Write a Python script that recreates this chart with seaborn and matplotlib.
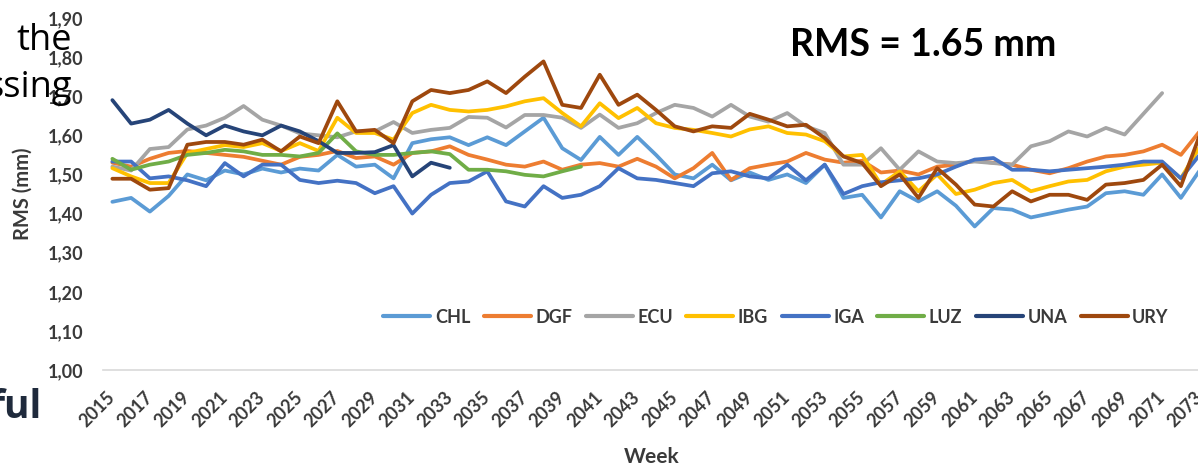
import numpy as np
import pandas as pd
import matplotlib
matplotlib.use("Agg")
import matplotlib.pyplot as plt
import seaborn as sns

nan = np.nan

# GPS week numbers on the horizontal axis
weeks = list(range(2015, 2074))

stations = ["CHL", "DGF", "ECU", "IBG", "IGA", "LUZ", "UNA", "URY"]
station_colors = ["#5B9BD5", "#ED7D31", "#A5A5A5", "#FFC000",
                  "#4472C4", "#70AD47", "#264478", "#9E480E"]

# Weekly RMS (mm) per analysis centre
chl = [1.43, 1.44, 1.405, 1.445, 1.50, 1.485, 1.51, 1.50, 1.515, 1.505,
       1.515, 1.51, 1.55, 1.52, 1.525, 1.49, 1.58, 1.59, 1.595, 1.575,
       1.595, 1.575, 1.61, 1.645, 1.567, 1.537, 1.596, 1.55, 1.596, 1.55,
       1.50, 1.49, 1.525, 1.485, 1.505, 1.486, 1.50, 1.478, 1.525, 1.44,
       1.448, 1.39, 1.457, 1.431, 1.457, 1.42, 1.367, 1.414, 1.41, 1.39,
       1.40, 1.41, 1.418, 1.452, 1.457, 1.448, 1.50, 1.44, 1.51]
dgf = [1.53, 1.52, 1.54, 1.555, 1.56, 1.555, 1.55, 1.545, 1.535, 1.525,
       1.545, 1.55, 1.56, 1.542, 1.546, 1.525, 1.555, 1.559, 1.572, 1.55,
       1.538, 1.525, 1.52, 1.533, 1.512, 1.525, 1.529, 1.52, 1.54, 1.52,
       1.49, 1.516, 1.555, 1.486, 1.516, 1.525, 1.533, 1.555, 1.538, 1.53,
       1.535, 1.505, 1.51, 1.50, 1.52, 1.525, 1.535, 1.53, 1.525, 1.512,
       1.503, 1.516, 1.533, 1.546, 1.55, 1.559, 1.576, 1.55, 1.61]
ecu = [1.52, 1.51, 1.565, 1.57, 1.615, 1.625, 1.645, 1.675, 1.64, 1.625,
       1.605, 1.60, 1.595, 1.61, 1.61, 1.634, 1.606, 1.614, 1.619, 1.647,
       1.645, 1.62, 1.652, 1.652, 1.645, 1.619, 1.653, 1.619, 1.631, 1.657,
       1.678, 1.67, 1.648, 1.678, 1.648, 1.635, 1.657, 1.623, 1.606, 1.525,
       1.525, 1.567, 1.512, 1.559, 1.533, 1.529, 1.533, 1.529, 1.525, 1.572,
       1.585, 1.61, 1.597, 1.619, 1.602, 1.655, 1.708, nan, nan]
ibg = [1.516, 1.495, 1.478, 1.478, 1.555, 1.565, 1.575, 1.57, 1.58, 1.56,
       1.58, 1.56, 1.645, 1.606, 1.606, 1.589, 1.657, 1.678, 1.665, 1.661,
       1.665, 1.674, 1.687, 1.695, 1.657, 1.623, 1.682, 1.644, 1.67, 1.631,
       1.619, 1.614, 1.606, 1.597, 1.615, 1.623, 1.606, 1.602, 1.585, 1.546,
       1.55, 1.474, 1.508, 1.457, 1.50, 1.45, 1.461, 1.478, 1.486, 1.457,
       1.47, 1.482, 1.486, 1.508, 1.52, 1.525, 1.53, 1.49, 1.57]
iga = [1.533, 1.533, 1.49, 1.495, 1.485, 1.47, 1.529, 1.495, 1.525, 1.525,
       1.486, 1.478, 1.484, 1.478, 1.452, 1.47, 1.40, 1.448, 1.478, 1.482,
       1.508, 1.431, 1.418, 1.47, 1.44, 1.448, 1.47, 1.516, 1.49, 1.486,
       1.478, 1.47, 1.503, 1.508, 1.495, 1.49, 1.525, 1.485, 1.525, 1.45,
       1.47, 1.48, 1.485, 1.49, 1.50, 1.52, 1.538, 1.542, 1.512, 1.512,
       1.508, 1.512, 1.516, 1.52, 1.525, 1.533, 1.533, 1.49, 1.55]
luz = [1.54, 1.512, 1.525, 1.533, 1.55, 1.555, 1.563, 1.559, 1.55, 1.55,
       1.546, 1.555, 1.605, 1.559, 1.55, 1.55, 1.555, 1.559, 1.552, 1.512,
       1.512, 1.508, 1.499, 1.495, 1.508, 1.52] + [nan] * 33
una = [1.69, 1.63, 1.64, 1.665, 1.63, 1.60, 1.625, 1.61, 1.60, 1.625,
       1.61, 1.585, 1.555, 1.555, 1.557, 1.575, 1.495, 1.53, 1.517] + [nan] * 40
ury = [1.489, 1.489, 1.461, 1.465, 1.576, 1.583, 1.583, 1.576, 1.589, 1.559,
       1.597, 1.58, 1.687, 1.61, 1.614, 1.58, 1.687, 1.716, 1.708, 1.716,
       1.738, 1.708, 1.75, 1.789, 1.678, 1.67, 1.755, 1.678, 1.704, 1.665,
       1.623, 1.61, 1.623, 1.619, 1.655, 1.64, 1.623, 1.627, 1.593, 1.546,
       1.529, 1.47, 1.50, 1.44, 1.516, 1.474, 1.423, 1.418, 1.457, 1.431,
       1.448, 1.448, 1.435, 1.474, 1.478, 1.486, 1.525, 1.47, 1.60]

y_ticks = [1.0, 1.1, 1.2, 1.3, 1.4, 1.5, 1.6, 1.7, 1.8, 1.9]

series = dict(zip(stations, [chl, dgf, ecu, ibg, iga, luz, una, ury]))
wide = pd.DataFrame(series)
wide["week"] = weeks
wide["pos"] = wide["week"] - weeks[0]
long = wide.melt(id_vars=["week", "pos"], var_name="station", value_name="rms")
long = long.dropna(subset=["rms"])

sns.set_theme(style="white")
plt.rcParams["font.family"] = ["Lato", "DejaVu Sans"]

W, H = 1198, 465
fig = plt.figure(figsize=(W / 100, H / 100), dpi=100)
ax = fig.add_axes([103 / W, 95 / H, 1106 / W, 352 / H])

sns.lineplot(data=long, x="pos", y="rms", hue="station", hue_order=stations,
             palette=dict(zip(stations, station_colors)), linewidth=2.7,
             estimator=None, sort=False, ax=ax)

txt_color = "#3a3a3a"
ax.set_xlim(-0.5, len(weeks) - 0.5)
ax.set_ylim(1.0, 1.9)
ax.set_yticks(y_ticks)
ax.set_yticklabels([f"{v:.2f}".replace(".", ",") for v in y_ticks],
                   fontsize=13, fontweight="bold", color=txt_color)
tick_pos = list(range(0, len(weeks), 2))
ax.set_xticks(tick_pos)
ax.set_xticklabels([str(weeks[p]) for p in tick_pos], rotation=45,
                   ha="right", va="center", rotation_mode="anchor",
                   fontsize=13, fontweight="bold", color=txt_color)
ax.tick_params(axis="x", length=0, pad=18)
ax.tick_params(axis="y", length=0, pad=14)

for side in ["top", "right", "left"]:
    ax.spines[side].set_visible(False)
ax.spines["bottom"].set_color("#d9d9d9")
ax.spines["bottom"].set_linewidth(1.2)
ax.grid(False)

ax.set_xlabel("Week", fontsize=15, fontweight="bold", color=txt_color)
ax.xaxis.set_label_coords(0.4964, -0.219)
ax.set_ylabel("RMS (mm)", fontsize=14.5, fontweight="bold", color=txt_color)
ax.yaxis.set_label_coords(-0.064, 0.5)

handles, labels = ax.get_legend_handles_labels()
for h in handles:
    h.set_linewidth(3.0)
leg = ax.legend(handles, labels, ncol=8, frameon=False, loc="center",
                bbox_to_anchor=(0.6085, 0.15), handlelength=2.6,
                handletextpad=0.25, columnspacing=0.75,
                prop={"size": 13, "weight": "bold"})
for t in leg.get_texts():
    t.set_color(txt_color)

fig.text(790 / W, 1 - 45 / H, "RMS = 1.65 mm", ha="left", va="center",
         fontsize=27, fontweight="bold", color="black")

# Surrounding page text running into the figure
fig.text(72 / W, 1 - 50 / H, "the", ha="right", va="baseline",
         fontsize=26, color="black", family=["Open Sans", "DejaVu Sans"])
fig.text(72 / W, 1 - 97 / H, "ssing", ha="right", va="baseline",
         fontsize=26, color="black", family=["Open Sans", "DejaVu Sans"])
fig.text(42 / W, 1 - 418 / H, "ful", ha="right", va="baseline",
         fontsize=28, fontweight="bold", color="#1f2a3c",
         family=["Open Sans", "DejaVu Sans"])

fig.savefig("out.png", dpi=100)
